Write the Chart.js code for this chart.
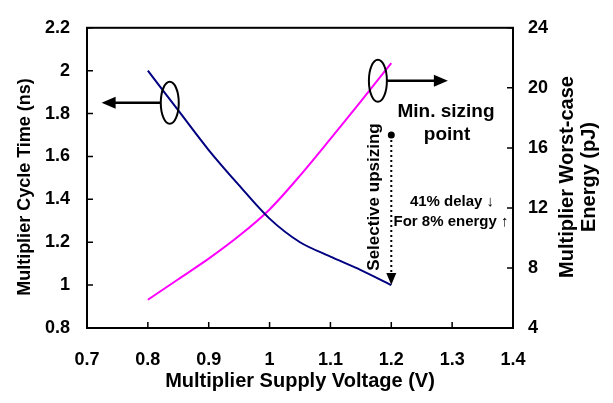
<!DOCTYPE html>
<html>
<head>
<meta charset="utf-8">
<script src="https://cdn.jsdelivr.net/npm/chart.js@4"></script>
<style>
  html, body { margin: 0; padding: 0; background: #fff; }
  #wrap { width: 613px; height: 403px; }
</style>
</head>
<body>
<div id="wrap"><canvas id="chart" width="613" height="403"></canvas></div>
<script>
// values
const voltage   = [0.8, 0.85, 0.9, 0.95, 1.0, 1.05, 1.1, 1.15, 1.2];
const cycleTime = [2.0, 1.815, 1.63, 1.465, 1.31, 1.20, 1.133, 1.07, 1.0];
const energy    = [5.88, 7.25, 8.62, 10.14, 11.9, 14.15, 16.6, 19.1, 21.65];

const xTicks  = [0.7, 0.8, 0.9, 1.0, 1.1, 1.2, 1.3, 1.4];
const yTicks  = [0.8, 1.0, 1.2, 1.4, 1.6, 1.8, 2.0, 2.2];
const y1Ticks = [4, 8, 12, 16, 20, 24];

const FONT = "'Liberation Sans', Arial, sans-serif";

function pts(ys) {
    return voltage.map((v, i) => ({ x: v, y: ys[i] }));
}

// box, inner tick marks, axis titles and the call-outs
const annotations = {
    id: 'annotations',
    afterDraw(chart) {
        const { ctx, chartArea: a, scales: { x, y, y1 } } = chart;
        ctx.save();
        ctx.strokeStyle = '#000';
        ctx.fillStyle = '#000';

        // plot box
        ctx.lineWidth = 2;
        ctx.strokeRect(a.left, a.top, a.right - a.left, a.bottom - a.top);

        // tick marks pointing in
        ctx.lineWidth = 1.5;
        ctx.beginPath();
        xTicks.forEach(v => { const px = x.getPixelForValue(v); ctx.moveTo(px, a.bottom); ctx.lineTo(px, a.bottom - 6); });
        yTicks.forEach(v => { const py = y.getPixelForValue(v); ctx.moveTo(a.left, py); ctx.lineTo(a.left + 6, py); });
        y1Ticks.forEach(v => { const py = y1.getPixelForValue(v); ctx.moveTo(a.right, py); ctx.lineTo(a.right - 6, py); });
        ctx.stroke();

        // y axis titles, both read bottom to top
        ctx.textAlign = 'center';
        ctx.textBaseline = 'middle';
        ctx.font = 'bold 18px ' + FONT;
        ctx.save(); ctx.translate(25, 187); ctx.rotate(-Math.PI / 2);
        ctx.fillText('Multiplier Cycle Time (ns)', 0, 0); ctx.restore();
        ctx.font = 'bold 20px ' + FONT;
        ctx.save(); ctx.translate(567, 177); ctx.rotate(-Math.PI / 2);
        ctx.fillText('Multiplier Worst-case', 0, 0);
        ctx.fillText('Energy (pJ)', 0, 22); ctx.restore();

        // left ellipse + arrow
        ctx.lineWidth = 2;
        let cx = x.getPixelForValue(0.836), cy = y.getPixelForValue(1.85);
        ctx.beginPath(); ctx.ellipse(cx, cy, 9, 21, 0, 0, Math.PI * 2); ctx.stroke();
        let tip = x.getPixelForValue(0.724);
        ctx.lineWidth = 2.5;
        ctx.beginPath(); ctx.moveTo(cx - 9, cy); ctx.lineTo(tip + 10, cy); ctx.stroke();
        ctx.beginPath(); ctx.moveTo(tip, cy); ctx.lineTo(tip + 14, cy - 6); ctx.lineTo(tip + 14, cy + 6); ctx.closePath(); ctx.fill();

        // right ellipse + arrow
        ctx.lineWidth = 2;
        cx = x.getPixelForValue(1.178); cy = y1.getPixelForValue(20.47);
        ctx.beginPath(); ctx.ellipse(cx, cy, 9, 21, 0, 0, Math.PI * 2); ctx.stroke();
        tip = x.getPixelForValue(1.293);
        ctx.lineWidth = 2.5;
        ctx.beginPath(); ctx.moveTo(cx + 9, cy); ctx.lineTo(tip - 10, cy); ctx.stroke();
        ctx.beginPath(); ctx.moveTo(tip, cy); ctx.lineTo(tip - 14, cy - 6); ctx.lineTo(tip - 14, cy + 6); ctx.closePath(); ctx.fill();

        // min sizing point, dotted arrow down to the curve end
        ctx.lineWidth = 2;
        const dx = x.getPixelForValue(1.2);
        const dy0 = y.getPixelForValue(1.70), dy1 = y.getPixelForValue(1.0);
        ctx.beginPath(); ctx.arc(dx, dy0, 3.5, 0, Math.PI * 2); ctx.fill();
        ctx.setLineDash([2, 3]);
        ctx.beginPath(); ctx.moveTo(dx, dy0); ctx.lineTo(dx, dy1 - 11); ctx.stroke();
        ctx.setLineDash([]);
        ctx.beginPath(); ctx.moveTo(dx, dy1); ctx.lineTo(dx - 5, dy1 - 12); ctx.lineTo(dx + 5, dy1 - 12); ctx.closePath(); ctx.fill();

        // texts
        ctx.font = 'bold 19px ' + FONT;
        ctx.fillText('Min. sizing', 446, 112);
        ctx.fillText('point', 447, 135);
        ctx.font = 'bold 15px ' + FONT;
        ctx.fillText('41% delay \u2193', 452, 202);
        ctx.fillText('For 8% energy \u2191', 451, 222);
        ctx.font = 'bold 17px ' + FONT;
        ctx.save(); ctx.translate(374, 197); ctx.rotate(-Math.PI / 2);
        ctx.fillText('Selective upsizing', 0, 0); ctx.restore();

        ctx.restore();
    }
};

const tickFont = { family: FONT, size: 18, weight: 'bold' };
const plain = v => String(v);

new Chart(document.getElementById('chart'), {
    type: 'line',
    data: {
        datasets: [{
            label: 'Cycle time',
            data: pts(cycleTime),
            borderColor: '#000080',
            borderWidth: 2,
            pointRadius: 0,
            tension: 0.3,
            yAxisID: 'y'
        }, {
            label: 'Energy',
            data: pts(energy),
            borderColor: '#ff00ff',
            borderWidth: 2,
            pointRadius: 0,
            tension: 0.3,
            yAxisID: 'y1'
        }]
    },
    options: {
        responsive: false,
        animation: false,
        layout: { padding: { top: 20, right: 0, left: 0, bottom: 0 } },
        plugins: { legend: { display: false }, tooltip: { enabled: false } },
        scales: {
            x: {
                type: 'linear',
                min: 0.7, max: 1.4,
                afterBuildTicks: s => { s.ticks = xTicks.map(v => ({ value: v })); },
                afterFit: s => { s.height = 75; },
                grid: { display: false, drawTicks: false },
                border: { display: false },
                ticks: { color: '#000', font: tickFont, padding: 21, maxRotation: 0, autoSkip: false, callback: plain },
                title: { display: true, text: 'Multiplier Supply Voltage (V)', color: '#000',
                         font: { family: FONT, size: 20, weight: 'bold' }, padding: { top: 10, bottom: 10 } }
            },
            y: {
                position: 'left',
                min: 0.8, max: 2.2,
                afterBuildTicks: s => { s.ticks = yTicks.map(v => ({ value: v })); },
                afterFit: s => { s.width = 87; },
                grid: { display: false, drawTicks: false },
                border: { display: false },
                ticks: { color: '#000', font: tickFont, padding: 17, callback: plain }
            },
            y1: {
                position: 'right',
                min: 4, max: 24,
                afterBuildTicks: s => { s.ticks = y1Ticks.map(v => ({ value: v })); },
                afterFit: s => { s.width = 100; },
                grid: { display: false, drawTicks: false },
                border: { display: false },
                ticks: { color: '#000', font: tickFont, padding: 15, callback: plain }
            }
        }
    },
    plugins: [annotations]
});
</script>
</body>
</html>
